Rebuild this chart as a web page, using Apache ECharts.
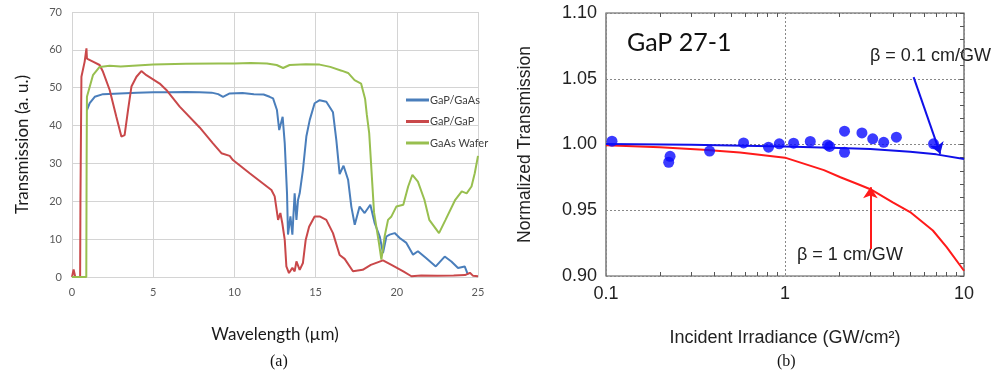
<!DOCTYPE html>
<html>
<head>
<meta charset="utf-8">
<script src="https://cdn.jsdelivr.net/npm/echarts@6/dist/echarts.min.js"></script>
<style>
html,body{margin:0;padding:0;background:#fff;}
#c{width:993px;height:377px;}
</style>
</head>
<body>
<div id="c"></div>
<script>
// ---------- Panel (a): transmission spectra ----------
const seriesNamesA = ['GaP/GaAs', 'GaP/GaP', 'GaAs Wafer'];
const xTicksA = [0, 5, 10, 15, 20, 25];
const yTicksA = [0, 10, 20, 30, 40, 50, 60, 70];

const gapGaAs = [[0.92,44.1],[1.09,45.9],[1.4,47.6],[1.91,48.3],[2.94,48.5],[4,48.7],[5,48.8],[6,48.8],[7,48.9],[7.86,48.8],[8.6,48.7],[9.0,48.3],[9.3,47.6],[9.71,48.5],[10.5,48.6],[11.2,48.3],[11.8,48.2],[12.17,47.6],[12.38,47.2],[12.62,44.1],[12.76,38.8],[12.97,42.3],[13.1,35.3],[13.24,22.1],[13.3,11.2],[13.45,16],[13.57,11.2],[13.71,22.1],[13.82,15.1],[13.92,20.4],[14.02,22.1],[14.22,28.3],[14.43,37.1],[14.64,41.5],[14.94,45.9],[15.25,46.7],[15.66,46.3],[16.07,43.5],[16.28,36],[16.48,27.2],[16.72,29.4],[17.0,25.7],[17.2,18.6],[17.41,13.8],[17.71,18.6],[18.02,16.9],[18.37,19.1],[18.64,14.2],[18.95,10.7],[19.15,6.3],[19.36,10.7],[19.56,11.2],[19.87,11.6],[20.18,10.3],[20.59,9],[21.0,5.9],[21.3,6.8],[21.8,5.0],[22.4,2.8],[22.95,5.4],[23.36,4.1],[23.77,2.4],[24.18,2.8],[24.38,0.6]];

const gapGaP = [[0,0],[0.1,2],[0.2,0],[0.5,0],[0.52,20],[0.58,52.9],[0.78,56.9],[0.89,60.4],[0.92,57.7],[1.29,56.9],[1.7,56],[1.91,54.2],[2.32,49.4],[2.73,42.3],[3.04,37.1],[3.24,37.5],[3.45,44.1],[3.66,50.3],[3.97,52.9],[4.27,54.4],[4.58,53.3],[5.4,51.1],[5.81,49.4],[6.63,45],[7.86,39.5],[8.68,35.3],[9.2,32.7],[9.71,32],[9.91,30.9],[10.94,27.4],[12.28,23],[12.48,21.3],[12.69,15.1],[12.83,16.9],[12.95,14.2],[13.1,9.8],[13.2,2.8],[13.36,1.05],[13.57,2.4],[13.71,1.5],[13.82,4.1],[14.02,1.9],[14.22,3.7],[14.39,9.8],[14.6,13.3],[14.94,16],[15.25,16],[15.66,15.1],[16.07,11.6],[16.48,5.8],[16.79,4.8],[17.3,1.5],[17.9,1.9],[18.4,3.2],[19.15,4.4],[19.67,3.2],[20.4,1.5],[20.9,0.2],[21.5,0.4],[22.5,0.3],[23.5,0.4],[24.2,0.5],[24.5,1.1],[24.7,0.3],[25,0.2]];

const gaasWafer = [[0,0],[0.88,0],[0.9,30],[0.92,47.6],[1.29,53.3],[1.7,55.5],[2.32,55.8],[3,55.6],[4,55.9],[5,56.1],[7,56.3],[9,56.4],[10,56.4],[11,56.5],[12,56.4],[12.6,56],[13.0,55.2],[13.4,56],[14.4,56.2],[15.25,56.1],[15.9,55.5],[16.6,54.5],[17.0,53.9],[17.4,52],[17.8,51.1],[18.05,47],[18.15,43],[18.3,38],[18.4,31],[18.6,17],[18.9,9],[19.05,4.6],[19.25,10.7],[19.46,15.1],[19.67,16],[19.97,18.6],[20.4,19.1],[20.7,23.9],[20.96,27],[21.3,25.2],[21.7,20.4],[22.0,15.1],[22.6,11.6],[23.0,15.1],[23.6,20.4],[24.0,22.6],[24.3,22.1],[24.6,23.9],[24.8,27.4],[25,32]];

// ---------- Panel (b): normalized transmission vs irradiance ----------
const xTicksB = [0.1, 1, 10];
const xMinorTicksB = [0.2,0.3,0.4,0.5,0.6,0.7,0.8,0.9,2,3,4,5,6,7,8,9];
const yTicksB = [0.90, 0.95, 1.00, 1.05, 1.10];
const measured = [[0.108,1.0025],[0.224,0.9865],[0.228,0.991],[0.379,0.995],[0.587,1.0012],[0.809,0.998],[0.929,1.0005],[1.117,1.001],[1.384,1.0023],[1.73,0.9997],[1.776,0.9985],[2.15,1.0101],[2.15,0.9941],[2.69,1.0088],[3.09,1.0043],[3.56,1.0017],[4.19,1.0056],[6.76,1.0005]];
const fitBeta01 = [[0.1,1.0003],[0.3,0.9998],[0.5,0.9993],[1,0.9985],[2,0.9973],[3,0.9965],[5,0.9945],[7,0.9925],[10,0.989]];
const fitBeta1 = [[0.1,0.9995],[0.2,0.998],[0.35,0.996],[0.56,0.994],[1,0.990],[1.65,0.9805],[2.04,0.9751],[2.54,0.970],[3.0,0.966],[4.0,0.956],[5.0,0.9486],[6.7,0.9346],[8.0,0.922],[10,0.904]];
const arrowBeta01 = [[5.23,1.0512],[7.37,0.9929]];
const arrowBeta1 = [[3.0,0.9205],[3.0,0.9675]];

const chart = echarts.init(document.getElementById('c'), null, {renderer: 'canvas'});

const fA = 'Lato, "Open Sans", sans-serif';
const fB = '"Liberation Sans", Arial, sans-serif';
const gridGray = '#d4d4d4';

const minorTickAxis = (pos) => ({gridIndex: 1, type: 'log', logBase: 10, min: 0.1, max: 10, position: pos,
  axisLine: {show: false}, axisLabel: {show: false}, splitLine: {show: false},
  axisTick: {show: true, inside: true, length: 4, customValues: xMinorTicksB, lineStyle: {color: '#555'}}});

const option = {
  animation: false,
  backgroundColor: '#fff',
  grid: [
    {left: 72, right: 515, top: 12, bottom: 100, containLabel: false},
    {left: 606, right: 29, top: 13, bottom: 101, containLabel: false, show: true, borderColor: '#555', borderWidth: 1.2}
  ],
  legend: {
    data: seriesNamesA,
    orient: 'vertical',
    left: 401, top: 88,
    icon: 'rect', itemWidth: 23, itemHeight: 3, itemGap: 7.5,
    textStyle: {fontFamily: fA, fontSize: 11, color: '#404040', lineHeight: 14, padding: [0,0,0,-4]}
  },
  xAxis: [
    {gridIndex: 0, type: 'value', min: 0, max: 25, interval: 5,
     name: 'Wavelength (µm)', nameLocation: 'middle', nameGap: 49,
     nameTextStyle: {fontFamily: fA, fontSize: 17, color: '#1a1a1a'},
     axisLine: {show: true, lineStyle: {color: gridGray}}, axisTick: {show: false},
     axisLabel: {fontFamily: fA, fontSize: 11, color: '#595959', margin: 10},
     splitLine: {show: true, lineStyle: {color: gridGray, width: 1}}},
    {gridIndex: 1, type: 'log', logBase: 10, min: 0.1, max: 10,
     name: 'Incident Irradiance (GW/cm²)', nameLocation: 'middle', nameGap: 53,
     nameTextStyle: {fontFamily: fB, fontSize: 18, color: '#222'},
     axisLine: {show: false}, axisTick: {show: false},
     axisLabel: {fontFamily: fB, fontSize: 18, color: '#222', margin: 9,
                 formatter: v => String(+(+v).toPrecision(2))},
     splitLine: {show: true, lineStyle: {color: '#888', type: [2, 2], width: 1}}},
    minorTickAxis('top'),
    minorTickAxis('bottom')
  ],
  yAxis: [
    {gridIndex: 0, type: 'value', min: 0, max: 70, interval: 10,
     name: 'Transmission (a. u.)', nameLocation: 'middle', nameGap: 41,
     nameTextStyle: {fontFamily: fA, fontSize: 17, color: '#1a1a1a'},
     axisLine: {show: false}, axisTick: {show: false},
     axisLabel: {fontFamily: fA, fontSize: 11, color: '#595959', margin: 10},
     splitLine: {show: true, lineStyle: {color: gridGray, width: 1}}},
    {gridIndex: 1, type: 'value', min: 0.9, max: 1.1, interval: 0.05,
     name: 'Normalized Transmission', nameLocation: 'middle', nameGap: 72,
     nameTextStyle: {fontFamily: fB, fontSize: 17.5, color: '#222'},
     axisLine: {show: false}, axisTick: {show: false},
     axisLabel: {fontFamily: fB, fontSize: 18, color: '#222', margin: 9, formatter: v => v.toFixed(2)},
     splitLine: {show: true, lineStyle: {color: '#888', type: [2, 2], width: 1}}},
    {gridIndex: 1, type: 'value', min: 0.9, max: 1.1, interval: 0.01, position: 'right',
     axisLine: {show: false}, axisLabel: {show: false}, splitLine: {show: false},
     axisTick: {show: true, inside: true, length: 4, lineStyle: {color: '#555'}}}
  ],
  series: [
    {name: seriesNamesA[0], type: 'line', xAxisIndex: 0, yAxisIndex: 0, data: gapGaAs,
     showSymbol: false, symbol: 'none', lineStyle: {color: '#4a7ebb', width: 2}, itemStyle: {color: '#4a7ebb'}, z: 2},
    {name: seriesNamesA[1], type: 'line', xAxisIndex: 0, yAxisIndex: 0, data: gapGaP,
     showSymbol: false, symbol: 'none', lineStyle: {color: '#c9484a', width: 2}, itemStyle: {color: '#c9484a'}, z: 3},
    {name: seriesNamesA[2], type: 'line', xAxisIndex: 0, yAxisIndex: 0, data: gaasWafer,
     showSymbol: false, symbol: 'none', lineStyle: {color: '#98bf4f', width: 2}, itemStyle: {color: '#98bf4f'}, z: 4},

    {name: 'beta1', type: 'line', xAxisIndex: 1, yAxisIndex: 1, data: fitBeta1,
     showSymbol: false, symbol: 'none', lineStyle: {color: '#ff1a1a', width: 2}, z: 3,
     markLine: {silent: true, symbol: ['none', 'arrow'], symbolSize: 11, label: {show: false},
       lineStyle: {color: '#ff1a1a', width: 2, type: 'solid'},
       data: [[{coord: arrowBeta1[0]}, {coord: arrowBeta1[1]}]]}},
    {name: 'beta01', type: 'line', xAxisIndex: 1, yAxisIndex: 1, data: fitBeta01,
     showSymbol: false, symbol: 'none', lineStyle: {color: '#1010e8', width: 2}, z: 4,
     markLine: {silent: true, symbol: ['none', 'arrow'], symbolSize: 11, label: {show: false},
       lineStyle: {color: '#1010e8', width: 2, type: 'solid'},
       data: [[{coord: arrowBeta01[0]}, {coord: arrowBeta01[1]}]]}},
    {name: 'measured', type: 'scatter', xAxisIndex: 1, yAxisIndex: 1, data: measured,
     symbol: 'circle', symbolSize: 11, itemStyle: {color: '#0a0aff'}, z: 5}
  ],
  graphic: [
    {type: 'text', left: 627, top: 30, style: {text: 'GaP 27-1', font: '25px ' + fA, fill: '#111'}},
    {type: 'text', left: 870, top: 47, style: {text: 'β = 0.1 cm/GW', font: '18px ' + fB, fill: '#222'}},
    {type: 'text', left: 797, top: 246, style: {text: 'β = 1 cm/GW', font: '18px ' + fB, fill: '#222'}},
    {type: 'text', left: 270, top: 354, style: {text: '(a)', font: '16px "Liberation Serif", "Times New Roman", serif', fill: '#111'}},
    {type: 'text', left: 777, top: 354, style: {text: '(b)', font: '16px "Liberation Serif", "Times New Roman", serif', fill: '#111'}}
  ]
};
chart.setOption(option);
</script>
</body>
</html>
